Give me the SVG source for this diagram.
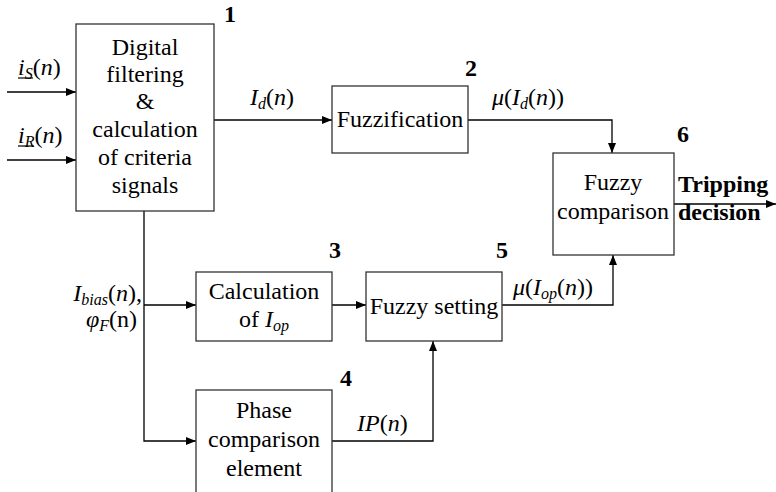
<svg xmlns="http://www.w3.org/2000/svg" width="776" height="492" viewBox="0 0 776 492" font-family="Liberation Serif, Times New Roman, Tinos, Noto Serif, DejaVu Serif, serif">
<style>
text{font-size:24px;fill:#000}
.c{text-anchor:middle}
.b{font-weight:bold}
.i{font-style:italic}
.s{font-size:16px}
.box{fill:#fff;stroke:#333;stroke-width:1.3}
.ln{fill:none;stroke:#000;stroke-width:1.3}
</style>
<defs>
<marker id="ah" markerWidth="10" markerHeight="8" refX="10" refY="4" orient="auto" markerUnits="userSpaceOnUse">
<path d="M0,0 L10,4 L0,8 Z" fill="#000"/>
</marker>
</defs>
<g id="connectors">
<path class="ln" d="M7,92 H76" marker-end="url(#ah)"/>
<path class="ln" d="M7,160 H76" marker-end="url(#ah)"/>
<path class="ln" d="M214,120 H332" marker-end="url(#ah)"/>
<path class="ln" d="M468,120 H612 V153" marker-end="url(#ah)"/>
<path class="ln" d="M674,204 H776" marker-end="url(#ah)"/>
<path class="ln" d="M144,211 V441 H196" marker-end="url(#ah)"/>
<path class="ln" d="M144,305 H196" marker-end="url(#ah)"/>
<path class="ln" d="M332,305 H366" marker-end="url(#ah)"/>
<path class="ln" d="M502,305 H613 V255" marker-end="url(#ah)"/>
<path class="ln" d="M332,441 H433 V341" marker-end="url(#ah)"/>
</g>
<g id="labels">
<text x="18" y="75" class="i">i<tspan class="s" dy="4">S</tspan><tspan dy="-4" font-style="normal">(</tspan>n<tspan font-style="normal">)</tspan></text>
<line x1="18" y1="78" x2="33" y2="78" stroke="#000" stroke-width="1.2"/>
<text x="18" y="143" class="i">i<tspan class="s" dy="4">R</tspan><tspan dy="-4" font-style="normal">(</tspan>n<tspan font-style="normal">)</tspan></text>
<line x1="18" y1="146" x2="34" y2="146" stroke="#000" stroke-width="1.2"/>
<text x="250" y="105" class="i">I<tspan class="s" dy="4">d</tspan><tspan dy="-4" font-style="normal">(</tspan>n<tspan font-style="normal">)</tspan></text>
<text x="492" y="105" class="i">μ<tspan font-style="normal">(</tspan>I<tspan class="s" dy="4">d</tspan><tspan dy="-4" font-style="normal">(</tspan>n<tspan font-style="normal">))</tspan></text>
<text x="513" y="295" class="i">μ<tspan font-style="normal">(</tspan>I<tspan class="s" dy="4">op</tspan><tspan dy="-4" font-style="normal">(</tspan>n<tspan font-style="normal">))</tspan></text>
<text x="142" y="301" class="i" text-anchor="end">I<tspan class="s" dy="4">bias</tspan><tspan dy="-4" font-style="normal">(</tspan>n<tspan font-style="normal">),</tspan></text>
<text x="137" y="327" class="i" text-anchor="end">φ<tspan class="s" dy="4">F</tspan><tspan dy="-4" font-style="normal">(n)</tspan></text>
<text x="357" y="431" class="i">IP<tspan font-style="normal">(</tspan>n<tspan font-style="normal">)</tspan></text>
<text x="678" y="192" class="b">Tripping</text>
<text x="678" y="220" class="b">decision</text>
</g>
<g id="node1">
<rect class="box" x="76" y="24" width="138" height="187"/>
<text class="c" x="145" y="55">Digital</text>
<text class="c" x="145" y="82">filtering</text>
<text class="c" x="145" y="109">&amp;</text>
<text class="c" x="145" y="137">calculation</text>
<text class="c" x="145" y="165">of criteria</text>
<text class="c" x="145" y="193">signals</text>
<text class="b" x="224" y="22">1</text>
</g>
<g id="node2">
<rect class="box" x="332" y="86" width="136" height="67"/>
<text class="c" x="400" y="127">Fuzzification</text>
<text class="b" x="465" y="76">2</text>
</g>
<g id="node3">
<rect class="box" x="196" y="272" width="136" height="69"/>
<text class="c" x="264" y="299">Calculation</text>
<text class="c" x="264" y="327">of <tspan class="i">I</tspan><tspan class="i s" dy="4">op</tspan></text>
<text class="b" x="329" y="258">3</text>
</g>
<g id="node4">
<rect class="box" x="196" y="390" width="136" height="110"/>
<text class="c" x="264" y="418">Phase</text>
<text class="c" x="264" y="447">comparison</text>
<text class="c" x="264" y="476">element</text>
<text class="b" x="340" y="386">4</text>
</g>
<g id="node5">
<rect class="box" x="366" y="272" width="136" height="69"/>
<text class="c" x="434" y="314">Fuzzy setting</text>
<text class="b" x="496" y="258">5</text>
</g>
<g id="node6">
<rect class="box" x="553" y="153" width="121" height="102"/>
<text class="c" x="613" y="190">Fuzzy</text>
<text class="c" x="613" y="219">comparison</text>
<text class="b" x="677" y="142">6</text>
</g>
</svg>
